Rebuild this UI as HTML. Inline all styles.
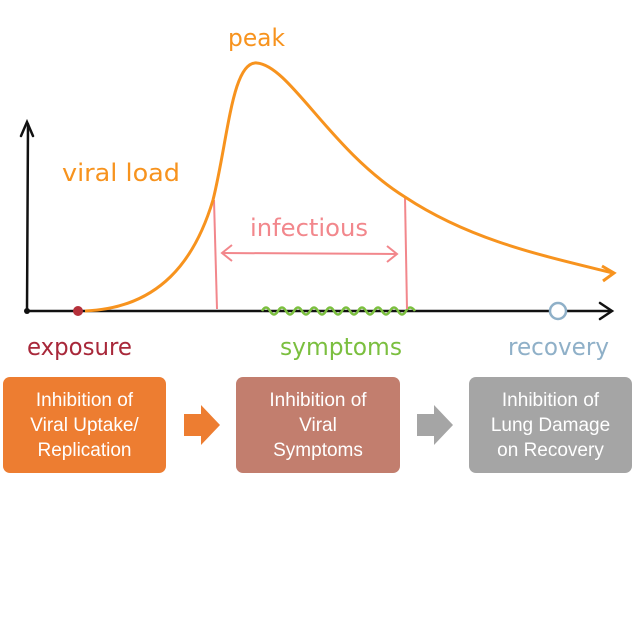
<!DOCTYPE html>
<html><head><style>
body{margin:0;width:633px;height:617px;background:#fff;overflow:hidden;position:relative;font-family:"Liberation Sans",sans-serif}
.b{position:absolute;top:377px;height:96px;border-radius:7px;color:#fff;font-size:19px;line-height:25px;text-align:center;display:flex;align-items:center;justify-content:center}
</style></head><body>
<svg width="633" height="380" style="position:absolute;left:0;top:0" font-family="'DejaVu Sans',sans-serif">
<g stroke="#111" stroke-width="2.5" fill="none" stroke-linecap="round">
<path d="M27 311 L28 124"/><path d="M21 136 L27 122 L33 136"/>
<path d="M27 311 L610 311"/><path d="M600 303 L612 311 L600 319"/>
</g>
<circle cx="27" cy="311" r="3" fill="#111"/>
<path d="M262 311 q4 -7 8 0 t8 0 t8 0 t8 0 t8 0 t8 0 t8 0 t8 0 t8 0 t8 0 t8 0 t8 0 t8 0 t8 0 t8 0 t8 0 t8 0 t8 0 t9 0" stroke="#7bbf3f" stroke-width="2.5" fill="none"/>
<g stroke="#f2878c" stroke-width="2" fill="none">
<path d="M214 200 L217 309"/><path d="M405 197 L407 309"/>
<path d="M222 253 L397 254"/><path d="M232 245 L222 253 L232 261"/><path d="M387 246 L397 254 L387 262"/>
</g>
<path d="M85 311 C160 308 195 260 213 200 C228 140 232 60 257 63 C290 66 330 150 405 197 C470 240 540 255 613 273" stroke="#f7931e" stroke-width="3" fill="none"/>
<path d="M602 266 L614 273 L603 281" stroke="#f7931e" stroke-width="3" fill="none"/>
<circle cx="78" cy="311" r="5" fill="#b5303a"/>
<circle cx="558" cy="311" r="8" fill="#fff" stroke="#8fb0c8" stroke-width="2.5"/>
<g font-size="24">
<text x="228" y="46" fill="#f7931e" textLength="57" lengthAdjust="spacingAndGlyphs">peak</text>
<text x="62" y="181" fill="#f7931e" textLength="118" lengthAdjust="spacingAndGlyphs">viral load</text>
<text x="250" y="236" fill="#f2878c" textLength="118" lengthAdjust="spacingAndGlyphs">infectious</text>
<text x="27" y="355" fill="#a8283a" textLength="105" lengthAdjust="spacingAndGlyphs">exposure</text>
<text x="280" y="355" fill="#7bbf3f" textLength="122" lengthAdjust="spacingAndGlyphs">symptoms</text>
<text x="508" y="355" fill="#8fb0c8" textLength="101" lengthAdjust="spacingAndGlyphs">recovery</text>
</g>
</svg>
<div class="b" style="left:3px;width:163px;background:#ED7D31">Inhibition of<br>Viral Uptake/<br>Replication</div>
<div class="b" style="left:236px;width:164px;background:#C27E6E">Inhibition of<br>Viral<br>Symptoms</div>
<div class="b" style="left:469px;width:163px;background:#A5A5A5">Inhibition of<br>Lung Damage<br>on Recovery</div>
<svg width="633" height="617" style="position:absolute;left:0;top:0">
<path d="M184 414 L201 414 L201 405 L220 425 L201 445 L201 436 L184 436Z" fill="#ED7D31"/>
<path d="M417 414 L434 414 L434 405 L453 425 L434 445 L434 436 L417 436Z" fill="#A5A5A5"/>
</svg>
</body></html>
